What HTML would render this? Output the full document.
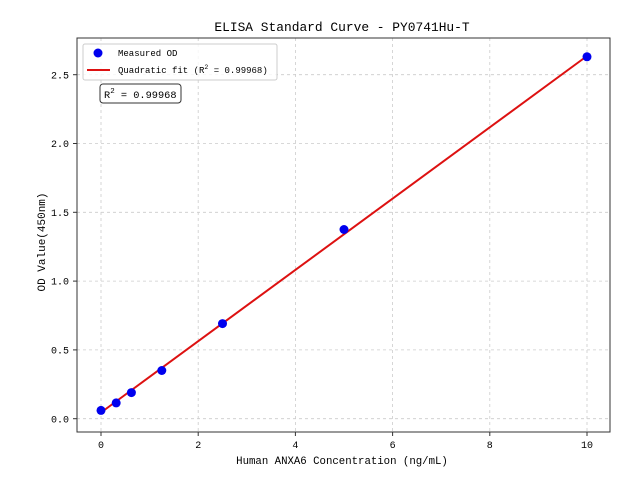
<!DOCTYPE html>
<html><head><meta charset="utf-8"><style>
body{margin:0;background:#fff;}
svg text{font-family:"Liberation Mono",monospace;fill:#000;}
</style></head><body>
<svg width="640" height="480" xmlns="http://www.w3.org/2000/svg">
<rect width="640" height="480" fill="#fff"/>
<g stroke="#ccc" stroke-width="0.8" stroke-dasharray="3,3">
<line x1="101" y1="38" x2="101" y2="432"/>
<line x1="198.2" y1="38" x2="198.2" y2="432"/>
<line x1="295.4" y1="38" x2="295.4" y2="432"/>
<line x1="392.6" y1="38" x2="392.6" y2="432"/>
<line x1="489.8" y1="38" x2="489.8" y2="432"/>
<line x1="587" y1="38" x2="587" y2="432"/>
<line x1="77" y1="418.7" x2="610" y2="418.7"/>
<line x1="77" y1="349.9" x2="610" y2="349.9"/>
<line x1="77" y1="281.1" x2="610" y2="281.1"/>
<line x1="77" y1="212.3" x2="610" y2="212.3"/>
<line x1="77" y1="143.5" x2="610" y2="143.5"/>
<line x1="77" y1="74.7" x2="610" y2="74.7"/>
</g>
<polyline points="101,412.5 587,56" fill="none" stroke="#dd1111" stroke-width="2"/>
<g fill="#0000ee">
<circle cx="101" cy="410.4" r="4.5"/>
<circle cx="116.2" cy="402.9" r="4.5"/>
<circle cx="131.4" cy="392.6" r="4.5"/>
<circle cx="161.8" cy="370.5" r="4.5"/>
<circle cx="222.5" cy="323.6" r="4.5"/>
<circle cx="344" cy="229.5" r="4.5"/>
<circle cx="587" cy="56.8" r="4.5"/>
</g>
<rect x="77" y="38" width="533" height="394" fill="none" stroke="#333" stroke-width="1"/>
<g stroke="#333" stroke-width="1">
<line x1="101" y1="432" x2="101" y2="436"/><line x1="198.2" y1="432" x2="198.2" y2="436"/>
<line x1="295.4" y1="432" x2="295.4" y2="436"/><line x1="392.6" y1="432" x2="392.6" y2="436"/>
<line x1="489.8" y1="432" x2="489.8" y2="436"/><line x1="587" y1="432" x2="587" y2="436"/>
<line x1="73" y1="418.7" x2="77" y2="418.7"/><line x1="73" y1="349.9" x2="77" y2="349.9"/>
<line x1="73" y1="281.1" x2="77" y2="281.1"/><line x1="73" y1="212.3" x2="77" y2="212.3"/>
<line x1="73" y1="143.5" x2="77" y2="143.5"/><line x1="73" y1="74.7" x2="77" y2="74.7"/>
</g>
<g font-size="10" text-anchor="middle">
<text x="101" y="448">0</text><text x="198.2" y="448">2</text><text x="295.4" y="448">4</text>
<text x="392.6" y="448">6</text><text x="489.8" y="448">8</text><text x="587" y="448">10</text>
</g>
<g font-size="10" text-anchor="end">
<text x="69" y="422.3">0.0</text><text x="69" y="353.5">0.5</text><text x="69" y="284.7">1.0</text>
<text x="69" y="215.9">1.5</text><text x="69" y="147.1">2.0</text><text x="69" y="78.3">2.5</text>
</g>
<text x="342" y="464" font-size="10.7" text-anchor="middle">Human ANXA6 Concentration (ng/mL)</text>
<text transform="translate(45,242) rotate(-90)" font-size="11" text-anchor="middle">OD Value(450nm)</text>
<text x="342" y="31" font-size="12.9" text-anchor="middle">ELISA Standard Curve - PY0741Hu-T</text>
<rect x="83" y="44" width="194" height="36" rx="2" fill="#fff" fill-opacity="0.8" stroke="#ccc"/>
<circle cx="98" cy="53" r="4.5" fill="#0000ee"/>
<text x="118" y="56" font-size="9">Measured OD</text>
<line x1="87" y1="70" x2="110" y2="70" stroke="#dd1111" stroke-width="2"/>
<text x="118" y="73" font-size="9">Quadratic fit (R<tspan font-size="6.5" dy="-4">2</tspan><tspan dy="4"> = 0.99968)</tspan></text>
<rect x="100" y="84" width="81" height="19" rx="3" fill="#fff" stroke="#333"/>
<text x="104" y="98" font-size="10.3">R<tspan font-size="7.5" dy="-5">2</tspan><tspan dy="5"> = 0.99968</tspan></text>
</svg>
</body></html>
